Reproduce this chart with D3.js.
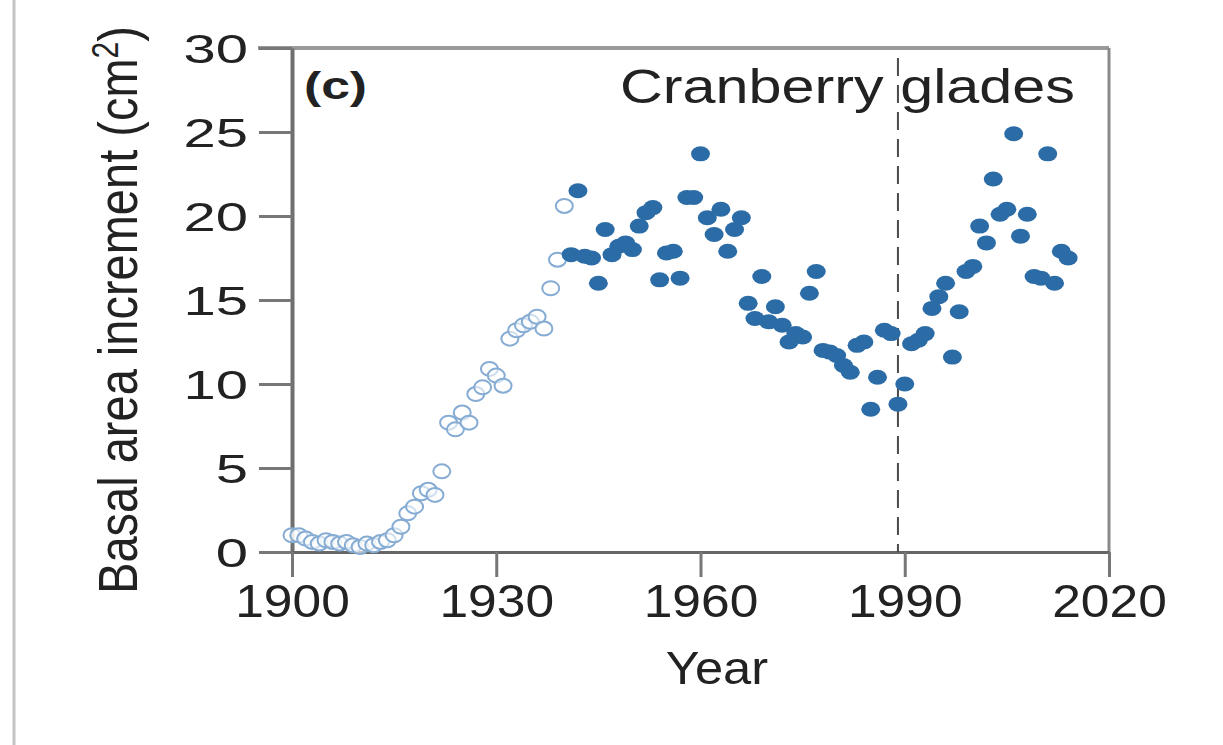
<!DOCTYPE html>
<html>
<head>
<meta charset="utf-8">
<script src="https://cdn.jsdelivr.net/npm/d3@7"></script>
<style>
  html, body { margin: 0; padding: 0; background: #fff; }
  svg { display: block; font-family: "Liberation Sans", Arial, Helvetica, sans-serif; }
</style>
</head>
<body>
<svg id="chart" width="1223" height="745"></svg>
<script>
// Basal area increment per year, Cranberry Glades
const earlyYears = d3.range(1900, 1941);           // open markers
const earlyValues = [
  1.0, 1.0, 0.8, 0.6, 0.5, 0.7, 0.6, 0.5, 0.6, 0.4,
  0.3, 0.5, 0.4, 0.6, 0.7, 1.0, 1.5, 2.3, 2.7, 3.5,
  3.7, 3.4, 4.8, 7.7, 7.3, 8.3, 7.7, 9.4, 9.8, 10.9,
  10.5, 9.9, 12.7, 13.2, 13.5, 13.7, 14.0, 13.3, 15.7, 17.4,
  20.6
];
const lateYears = d3.range(1941, 2015);            // filled markers
const lateValues = [
  17.7, 21.5, 17.6, 17.5, 16.0, 19.2, 17.7, 18.2, 18.4,
  18.0, 19.4, 20.2, 20.5, 16.2, 17.8, 17.9, 16.3, 21.1, 21.1,
  23.7, 19.9, 18.9, 20.4, 17.9, 19.2, 19.9, 14.8, 13.9, 16.4,
  13.7, 14.6, 13.5, 12.5, 13.0, 12.8, 15.4, 16.7, 12.0, 11.9,
  11.7, 11.1, 10.7, 12.3, 12.5, 8.5, 10.4, 13.2, 13.0, 8.8,
  10.0, 12.4, 12.6, 13.0, 14.5, 15.2, 16.0, 11.6, 14.3,
  16.7, 17.0, 19.4, 18.4, 22.2, 20.1, 20.4, 24.9, 18.8, 20.1,
  16.4, 16.3, 23.7, 16.0, 17.9, 17.5
];
const xTicks = [1900, 1930, 1960, 1990, 2020];
const yTicks = [0, 5, 10, 15, 20, 25, 30];
const breakYear = 1989;

const panelLabel = "(c)";
const siteName = "Cranberry glades";
const xTitle = "Year";

const svg = d3.select("#chart");

const x = d3.scaleLinear().domain([1900, 2020]).range([292, 1109]);
const y = d3.scaleLinear().domain([0, 30]).range([552, 48]);

// page edge rule on the left
svg.append("line")
  .attr("x1", 14).attr("x2", 14).attr("y1", 0).attr("y2", 745)
  .attr("stroke", "#c4c4c4").attr("stroke-width", 3);

// frame: top and right edges
svg.append("line")
  .attr("x1", 258).attr("x2", x(2020)).attr("y1", y(30)).attr("y2", y(30))
  .attr("stroke", "#9a9a9a").attr("stroke-width", 4);
svg.append("line")
  .attr("x1", x(2020)).attr("x2", x(2020)).attr("y1", y(30)).attr("y2", y(0))
  .attr("stroke", "#8a8a8a").attr("stroke-width", 3);

// y axis
const yAxis = svg.append("g")
  .attr("transform", `translate(${x(1900)},0)`)
  .call(d3.axisLeft(y).tickValues(yTicks).tickSize(33).tickSizeOuter(0).tickFormat(d3.format("d")));
yAxis.select(".domain").attr("stroke", "#6f6f6f").attr("stroke-width", 4);
yAxis.selectAll(".tick line").attr("stroke", "#777").attr("stroke-width", 3);
yAxis.selectAll(".tick text")
  .attr("x", null).attr("dy", null)
  .attr("fill", "#222")
  .style("font-size", "40px")
  .attr("text-anchor", "end")
  .attr("transform", "translate(-44,14) scale(1.45,1)");

// x axis
const xAxis = svg.append("g")
  .attr("transform", `translate(0,${y(0)})`)
  .call(d3.axisBottom(x).tickValues(xTicks).tickSize(25).tickSizeOuter(0).tickFormat(d3.format("d")));
xAxis.select(".domain").attr("stroke", "#666").attr("stroke-width", 3);
xAxis.selectAll(".tick line").attr("stroke", "#777").attr("stroke-width", 3);
xAxis.selectAll(".tick text")
  .attr("y", null).attr("dy", null)
  .attr("fill", "#222")
  .style("font-size", "46px")
  .attr("text-anchor", "middle")
  .attr("transform", "translate(0,65) scale(1.12,1)");

// reference year
svg.append("line")
  .attr("x1", x(breakYear)).attr("x2", x(breakYear))
  .attr("y1", y(30) + 10).attr("y2", y(0))
  .attr("stroke", "#4a4a4a").attr("stroke-width", 2)
  .attr("stroke-dasharray", "18,9");

// early period: open markers
svg.append("g").selectAll("ellipse")
  .data(earlyYears.map((yr, i) => ({ yr, v: earlyValues[i] })))
  .join("ellipse")
  .attr("cx", d => x(d.yr)).attr("cy", d => y(d.v))
  .attr("rx", 8.5).attr("ry", 7)
  .attr("fill", "#fff").attr("fill-opacity", 0.6)
  .attr("stroke", "#86acd3").attr("stroke-width", 2);

// later period: filled markers
svg.append("g").selectAll("ellipse")
  .data(lateYears.map((yr, i) => ({ yr, v: lateValues[i] })))
  .join("ellipse")
  .attr("cx", d => x(d.yr)).attr("cy", d => y(d.v))
  .attr("rx", 9.5).attr("ry", 7.5)
  .attr("fill", "#2c6ca6");

// panel annotations
svg.append("text")
  .attr("x", 304).attr("y", 99)
  .attr("fill", "#222").style("font-size", "38px").style("font-weight", "bold")
  .attr("textLength", 63).attr("lengthAdjust", "spacingAndGlyphs")
  .text(panelLabel);
svg.append("text")
  .attr("x", 620).attr("y", 103)
  .attr("fill", "#222").style("font-size", "48px")
  .attr("textLength", 455).attr("lengthAdjust", "spacingAndGlyphs")
  .text(siteName);

// axis titles
svg.append("text")
  .attr("x", 717).attr("y", 684)
  .attr("fill", "#222").style("font-size", "46px")
  .attr("text-anchor", "middle")
  .attr("transform", "translate(717,0) scale(1.1,1) translate(-717,0)")
  .text(xTitle);

const yTitle = svg.append("text")
  .attr("transform", "translate(137,310) scale(1.2,1) rotate(-90)")
  .attr("fill", "#222").style("font-size", "47px")
  .attr("text-anchor", "middle");
yTitle.append("tspan").text("Basal area increment (cm");
yTitle.append("tspan").attr("dy", -16).style("font-size", "30px").text("2");
yTitle.append("tspan").attr("dy", 16).text(")");
</script>
</body>
</html>
